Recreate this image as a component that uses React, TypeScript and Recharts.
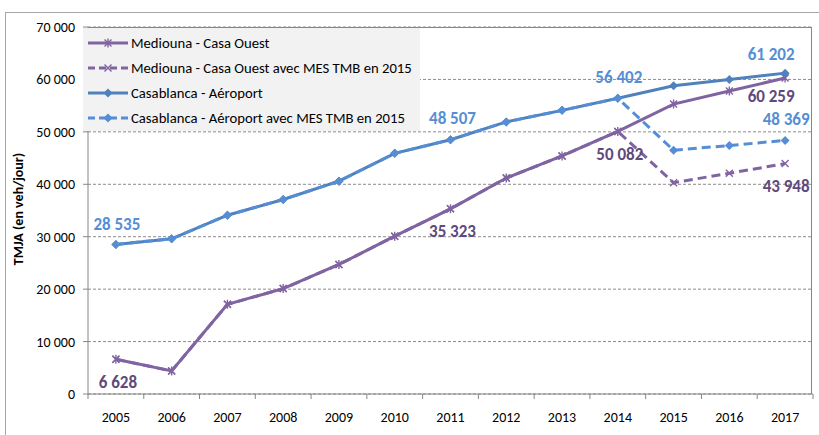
import { LineChart, Line, XAxis, YAxis, CartesianGrid } from 'recharts'

const years = ['2005', '2006', '2007', '2008', '2009', '2010', '2011', '2012', '2013', '2014', '2015', '2016', '2017']
const mediouna = [6628, 4400, 17100, 20100, 24700, 30100, 35323, 41200, 45400, 50082, 55300, 57800, 60259]
const mediounaTmb = [6628, 4400, 17100, 20100, 24700, 30100, 35323, 41200, 45400, 50082, 40300, 42100, 43948]
const casablanca = [28535, 29600, 34100, 37100, 40600, 45900, 48507, 51900, 54100, 56402, 58800, 60000, 61202]
const casablancaTmb = [28535, 29600, 34100, 37100, 40600, 45900, 48507, 51900, 54100, 56402, 46500, 47400, 48369]
const yTicks = [0, 10000, 20000, 30000, 40000, 50000, 60000, 70000]
const seriesNames = [
  'Mediouna - Casa Ouest',
  'Mediouna - Casa Ouest avec MES TMB en 2015',
  'Casablanca - Aéroport',
  'Casablanca - Aéroport avec MES TMB en 2015',
]

const data = years.map((year, i) => ({
  year,
  mediouna: mediouna[i],
  mediounaTmb: mediounaTmb[i],
  casablanca: casablanca[i],
  casablancaTmb: casablancaTmb[i],
}))

const FONT = "Carlito, 'Liberation Sans Narrow', 'Arial Narrow', 'DejaVu Sans Condensed', sans-serif"
const W = 819
const H = 435
const PLOT_L = 88
const PLOT_R = 6
const PLOT_T = 27
const AXIS_H = 41
const BAND = (W - PLOT_L - PLOT_R) / years.length

const PURPLE = '#8064a2'
const PURPLE_DARK = '#604a7b'
const BLUE = '#4f81bd'
const BLUE_LIGHT = '#558ed5'
const GRAY = '#868686'

type Marker = 'star' | 'x' | 'diamond'
type LabelPos = { index: number; dx: number; dy: number }

// which points carry a value label, and where
const labelsMediouna: LabelPos[] = [
  { index: 0, dx: 2, dy: 23 },
  { index: 6, dx: 2, dy: 23 },
  { index: 9, dx: 2, dy: 23 },
  { index: 12, dx: -14, dy: 18 },
]
const labelsMediounaTmb: LabelPos[] = [{ index: 12, dx: 1, dy: 23 }]
const labelsCasa: LabelPos[] = [
  { index: 0, dx: 1, dy: -20 },
  { index: 6, dx: 2, dy: -21 },
  { index: 9, dx: 1, dy: -21 },
  { index: 12, dx: -14, dy: -19 },
]
const labelsCasaTmb: LabelPos[] = [{ index: 12, dx: 1, dy: -21 }]

const fmt = (v: number) => String(v).replace(/\B(?=(\d{3})+(?!\d))/g, ' ')

function markerShape(marker: Marker, cx: number, cy: number, color: string) {
  if (marker === 'diamond') {
    const s = 4.5
    return <polygon points={`${cx},${cy - s} ${cx + s},${cy} ${cx},${cy + s} ${cx - s},${cy}`} fill={color} />
  }
  const s = 3.5
  let d = `M${cx - s},${cy - s}L${cx + s},${cy + s}M${cx - s},${cy + s}L${cx + s},${cy - s}`
  if (marker === 'star') d += `M${cx},${cy - 4.5}L${cx},${cy + 4.5}`
  return <path d={d} stroke={color} strokeWidth={1.4} fill="none" />
}

function makeDot(marker: Marker, color: string, labelColor: string, labels: LabelPos[]) {
  return (props: any) => {
    const { cx, cy, index, value } = props
    if (cx == null || cy == null) return <g key={`e${index}`} />
    const lab = labels.find((l) => l.index === index)
    const v = Array.isArray(value) ? value[1] : value
    return (
      <g key={`d${index}`}>
        {markerShape(marker, cx, cy, color)}
        {lab && (
          <text
            x={cx + lab.dx}
            y={cy + lab.dy}
            textAnchor="middle"
            dominantBaseline="central"
            fill={labelColor}
            fontWeight="bold"
            fontSize={17}
            fontFamily={FONT}
          >
            {fmt(v)}
          </text>
        )}
      </g>
    )
  }
}

function XTick(props: any) {
  const { x, y, payload, index } = props
  const half = BAND / 2
  return (
    <g>
      <line x1={x - half} y1={y} x2={x - half} y2={y + 5} stroke={GRAY} />
      {index === years.length - 1 && <line x1={x + half} y1={y} x2={x + half} y2={y + 5} stroke={GRAY} />}
      <text x={x} y={y + 23} textAnchor="middle" dominantBaseline="central" fontSize={14} fontFamily={FONT} fill="#000">
        {payload.value}
      </text>
    </g>
  )
}

const legendItems: { marker: Marker; color: string; dashed: boolean }[] = [
  { marker: 'star', color: PURPLE, dashed: false },
  { marker: 'x', color: PURPLE, dashed: true },
  { marker: 'diamond', color: BLUE, dashed: false },
  { marker: 'diamond', color: BLUE_LIGHT, dashed: true },
]

export default function App() {
  return (
    <div style={{ position: 'fixed', left: 0, top: 0, width: W, height: H, overflow: 'hidden', background: '#fff' }}>
      <div style={{ position: 'absolute', left: 5, top: 12, width: 900, height: 500, border: '1px solid #a6a6a6' }} />
      <LineChart width={W} height={H} data={data} margin={{ top: PLOT_T, right: PLOT_R, bottom: 0, left: 0 }}>
        <CartesianGrid vertical={false} strokeDasharray="3 2" stroke="#8c8c8c" />
        <XAxis
          dataKey="year"
          scale="band"
          height={AXIS_H}
          tickLine={false}
          tickSize={0}
          tickMargin={0}
          axisLine={{ stroke: GRAY }}
          tick={<XTick />}
          interval={0}
        />
        <YAxis
          width={PLOT_L}
          domain={[0, 70000]}
          ticks={yTicks}
          tickFormatter={fmt}
          tickSize={5}
          tickMargin={8}
          tickLine={{ stroke: GRAY }}
          axisLine={{ stroke: GRAY }}
          tick={{ fontSize: 14, fontFamily: FONT, fill: '#000' }}
          allowDataOverflow
        />
        <Line
          dataKey="mediouna"
          stroke={PURPLE}
          strokeWidth={3}
          dot={makeDot('star', PURPLE, PURPLE_DARK, labelsMediouna)}
          activeDot={false}
          isAnimationActive={false}
        />
        <Line
          dataKey="mediounaTmb"
          stroke={PURPLE}
          strokeWidth={3}
          strokeDasharray="9 5"
          dot={makeDot('x', PURPLE, PURPLE_DARK, labelsMediounaTmb)}
          activeDot={false}
          isAnimationActive={false}
        />
        <Line
          dataKey="casablanca"
          stroke={BLUE}
          strokeWidth={3}
          dot={makeDot('diamond', BLUE, BLUE_LIGHT, labelsCasa)}
          activeDot={false}
          isAnimationActive={false}
        />
        <Line
          dataKey="casablancaTmb"
          stroke={BLUE_LIGHT}
          strokeWidth={3}
          strokeDasharray="9 5"
          dot={makeDot('diamond', BLUE_LIGHT, BLUE_LIGHT, labelsCasaTmb)}
          activeDot={false}
          isAnimationActive={false}
        />
      </LineChart>
      <div
        style={{
          position: 'absolute',
          left: PLOT_L,
          top: PLOT_T,
          width: W - PLOT_L - PLOT_R - 1,
          height: H - PLOT_T - AXIS_H,
          borderTop: `1px solid ${GRAY}`,
          borderRight: `1px solid ${GRAY}`,
          pointerEvents: 'none',
          boxSizing: 'border-box',
        }}
      />
      <div
        style={{
          position: 'absolute',
          left: 83,
          top: 28,
          width: 337,
          height: 103,
          background: '#f2f2f2',
          fontFamily: FONT,
          fontSize: 14.7,
          color: '#000',
        }}
      >
        {seriesNames.map((name, i) => {
          const it = legendItems[i]
          return (
            <div key={name} style={{ position: 'absolute', left: 5, top: 15 + i * 25 - 8, height: 16, display: 'flex', alignItems: 'center', whiteSpace: 'nowrap' }}>
              <svg width={42} height={16} style={{ display: 'block' }}>
                <line x1={0} y1={8} x2={40} y2={8} stroke={it.color} strokeWidth={3} strokeDasharray={it.dashed ? '7 4' : undefined} />
                {markerShape(it.marker, 20, 8, it.color)}
              </svg>
              <span style={{ marginLeft: 1 }}>{name}</span>
            </div>
          )
        })}
      </div>
      <div
        style={{
          position: 'absolute',
          left: 18,
          top: 209,
          transform: 'translate(-50%, -50%) rotate(-90deg)',
          fontFamily: FONT,
          fontWeight: 'bold',
          fontSize: 14,
          whiteSpace: 'nowrap',
          color: '#000',
        }}
      >
        TMJA (en veh/jour)
      </div>
    </div>
  )
}
